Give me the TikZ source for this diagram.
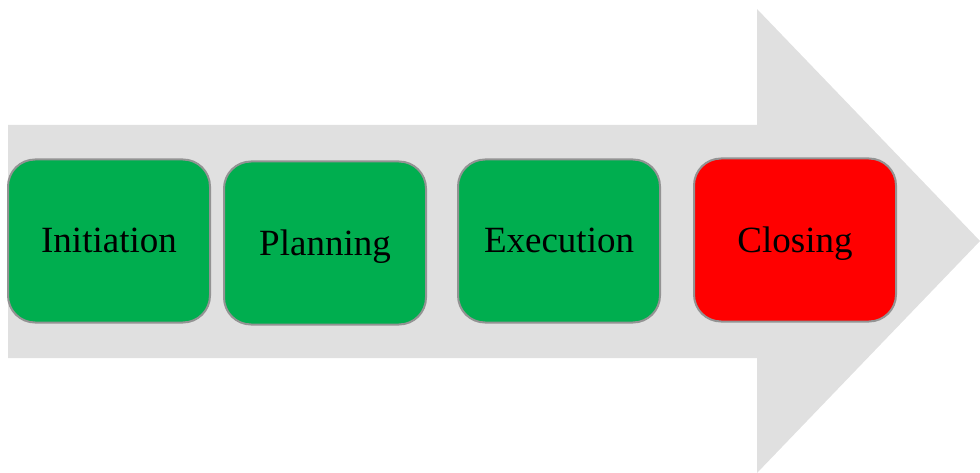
\documentclass[tikz,border=0pt]{standalone}
\usepackage{fontspec}
\setmainfont{Liberation Serif}
\definecolor{arrowgray}{HTML}{E0E0E0}
\definecolor{stepgreen}{HTML}{00AE4F}
\definecolor{stepred}{HTML}{FF0000}
\definecolor{edgegray}{HTML}{939393}
\begin{document}
\begin{tikzpicture}[x=1pt,y=-1pt,
  phasebox/.style={draw=edgegray, line width=2pt, rounded corners=27pt,
    minimum width=202pt, minimum height=163pt, inner sep=0pt,
    text height=26pt, text depth=2pt,
    font=\fontsize{37}{40}\selectfont, text=black}]
\useasboundingbox (0,0) rectangle (980,473);
\fill[arrowgray] (8,125) -- (757,125) -- (757,9) -- (980,241) -- (757,473) -- (757,358) -- (8,358) -- cycle;
\node[phasebox, fill=stepgreen] (init) at (109,241) {Initiation};
\node[phasebox, fill=stepgreen] (plan) at (325,243) {Planning};
\node[phasebox, fill=stepgreen] (exec) at (559,241) {Execution};
\node[phasebox, fill=stepred] (close) at (795,240) {Closing};
\end{tikzpicture}
\end{document}
